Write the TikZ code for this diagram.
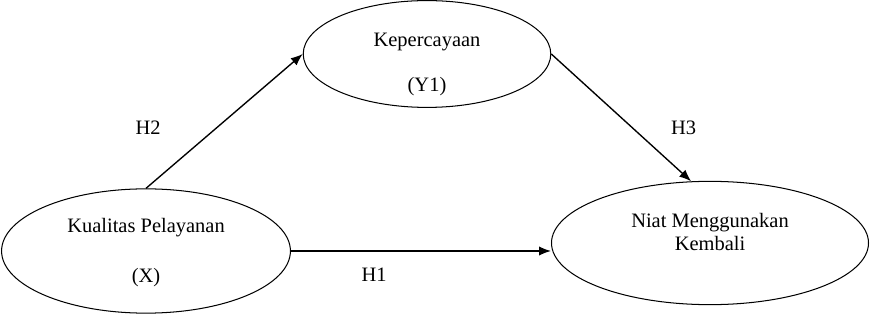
\documentclass[tikz,border=0pt]{standalone}
\usepackage{fontspec}
\setmainfont{Liberation Serif}
\usetikzlibrary{shapes,arrows.meta}

\tikzset{
	variabel/.style={draw, ellipse, line width=0.6pt, inner sep=0pt},
	panah/.style={line width=0.8pt, -{Latex[length=7pt,width=5.5pt]}},
}

\begin{document}
\begin{tikzpicture}[x=0.0206cm, y=-0.0206cm, font=\fontsize{12}{13.5}\selectfont]
		\useasboundingbox (0,0) rectangle (871,315);
		% variabel
		\node[variabel, minimum width=5.1cm, minimum height=2.2cm] (kep) at (427,54) {};
		\node[variabel, minimum width=5.95cm, minimum height=2.56cm] (kual) at (146,251) {};
		\node[variabel, minimum width=6.53cm, minimum height=2.54cm] (niat) at (710,243) {};
		\node (kepA) at (427,42) {Kepercayaan};
		\node (kepB) at (427,87) {(Y1)};
		\node (kualA) at (146,228) {Kualitas Pelayanan};
		\node (kualB) at (146,278) {(X)};
		\node[align=center] (niatA) at (710,232) {Niat Menggunakan\\Kembali};
		% hipotesis
		\draw[panah] (kual.north) -- node[pos=0.45, left=29pt]{H2} (kep.west);
		\draw[panah] (kep.east) -- node[pos=0.58, right=19pt]{H3} (niat.107);
		\draw[panah] (kual.east) -- node[pos=0.32, below=6pt]{H1} (niat.west |- kual.east);
	\end{tikzpicture}
\end{document}
